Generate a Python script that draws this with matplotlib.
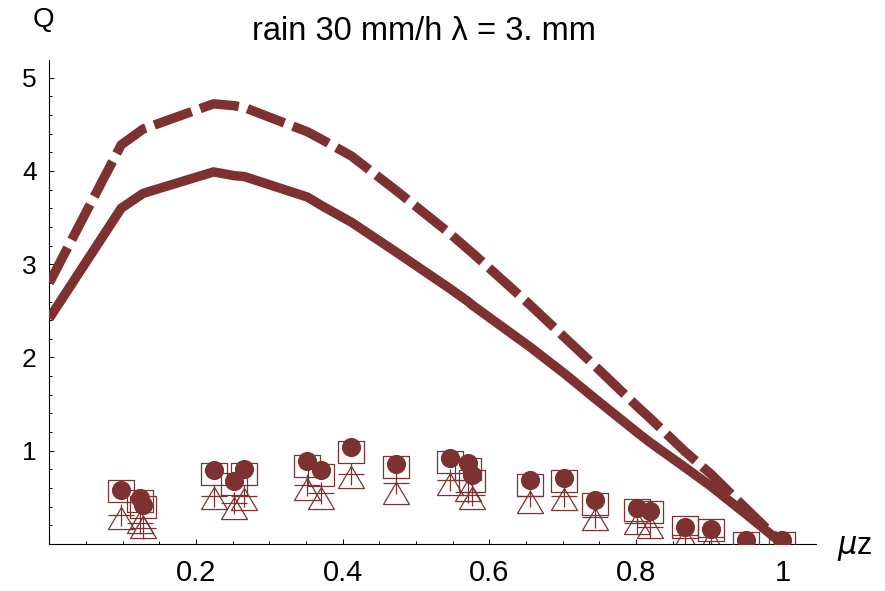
import numpy as np
import matplotlib
matplotlib.use("Agg")
import matplotlib.pyplot as plt
from matplotlib.path import Path
from matplotlib.ticker import MultipleLocator, FixedLocator

plt.rcParams['font.family'] = ['Liberation Sans', 'DejaVu Sans']

# ---- data ----
mu_z_curve = [0.0, 0.098, 0.128, 0.224, 0.252, 0.266, 0.352, 0.371, 0.412, 0.473,
              0.546, 0.571, 0.577, 0.656, 0.702, 0.744, 0.801, 0.819, 0.867, 0.902,
              0.95, 1.0]
q_solid = [2.42, 3.60, 3.76, 3.99, 3.95, 3.94, 3.72, 3.63, 3.45, 3.13,
           2.74, 2.60, 2.56, 2.11, 1.83, 1.56, 1.20, 1.09, 0.82, 0.62,
           0.32, 0.0]
q_dashed = [2.80, 4.28, 4.45, 4.72, 4.70, 4.68, 4.42, 4.34, 4.16, 3.79,
            3.33, 3.16, 3.12, 2.56, 2.22, 1.91, 1.48, 1.35, 0.99, 0.75,
            0.38, 0.0]

mu_z_pts = [0.098, 0.124, 0.128, 0.224, 0.252, 0.266, 0.352, 0.371, 0.412, 0.473,
            0.546, 0.571, 0.577, 0.656, 0.702, 0.744, 0.801, 0.819, 0.867, 0.902,
            0.95, 0.999]
q_circle = [0.58, 0.49, 0.42, 0.79, 0.675, 0.80, 0.89, 0.79, 1.04, 0.86,
            0.925, 0.865, 0.74, 0.686, 0.71, 0.47, 0.39, 0.357, 0.18, 0.157,
            0.045, 0.045]
q_square = [0.57, 0.46, 0.40, 0.75, 0.64, 0.75, 0.84, 0.735, 0.99, 0.825,
            0.875, 0.80, 0.68, 0.63, 0.68, 0.43, 0.37, 0.34, 0.18, 0.147,
            0.01, 0.01]
q_plus = [0.31, 0.22, 0.17, 0.51, 0.44, 0.51, 0.63, 0.55, 0.75, 0.65,
          0.686, 0.56, 0.525, 0.51, 0.51, 0.29, 0.22, 0.185, 0.10, 0.07,
          -0.10, -0.10]
q_triangle = [0.275, 0.24, 0.18, 0.49, 0.39, 0.48, 0.585, 0.49, 0.716, 0.55,
              0.64, 0.58, 0.49, 0.45, 0.48, 0.27, 0.22, 0.18, 0.05, 0.03,
              -0.15, -0.15]

xticks = [0.2, 0.4, 0.6, 0.8, 1.0]
xticklabels = ["0.2", "0.4", "0.6", "0.8", "1"]
yticks = [1, 2, 3, 4, 5]
yticklabels = ["1", "2", "3", "4", "5"]

color = "#7e3131"

# ---- custom markers ----
rect_marker = Path([(-1, -0.78), (1, -0.78), (1, 0.78), (-1, 0.78), (-1, -0.78)],
                   [Path.MOVETO, Path.LINETO, Path.LINETO, Path.LINETO, Path.CLOSEPOLY])
plus_marker = Path([(-1, 0), (1, 0), (0, -0.82), (0, 0.82)],
                   [Path.MOVETO, Path.LINETO, Path.MOVETO, Path.LINETO])
tri_marker = Path([(-1, -0.85), (1, -0.85), (0, 0.85), (-1, -0.85)],
                  [Path.MOVETO, Path.LINETO, Path.LINETO, Path.CLOSEPOLY])

fig = plt.figure(figsize=(8.85, 5.91), dpi=100)
ax = fig.add_axes([0.0557, 0.0795, 0.866, 0.819])

ax.plot(mu_z_pts, q_triangle, linestyle='none', marker=tri_marker, ms=18.7,
        mfc='none', mec=color, mew=0.9, zorder=2)
ax.plot(mu_z_pts, q_plus, linestyle='none', marker=plus_marker, ms=19.4,
        mfc='none', mec=color, mew=0.9, zorder=2)
ax.plot(mu_z_pts, q_square, linestyle='none', marker=rect_marker, ms=19.4,
        mfc='none', mec=color, mew=0.9, zorder=3)
ax.plot(mu_z_pts, q_circle, linestyle='none', marker='o', ms=13.8,
        mfc=color, mec=color, mew=0, zorder=4)

ax.plot(mu_z_curve, q_solid, color=color, lw=6.8, solid_joinstyle='round',
        solid_capstyle='butt', zorder=5)
ax.plot(mu_z_curve, q_dashed, color=color, lw=6.8, dashes=(4.2, 0.95),
        dash_joinstyle='round', dash_capstyle='butt', zorder=5)

ax.set_xlim(0, 1.045)
ax.set_ylim(0, 5.19)

for s in ['top', 'right']:
    ax.spines[s].set_visible(False)
for s in ['left', 'bottom']:
    ax.spines[s].set_linewidth(0.8)
    ax.spines[s].set_color('black')

ax.xaxis.set_major_locator(FixedLocator(xticks))
ax.set_xticklabels(xticklabels)
ax.xaxis.set_minor_locator(MultipleLocator(0.05))
ax.yaxis.set_major_locator(FixedLocator(yticks))
ax.set_yticklabels(yticklabels)
ax.yaxis.set_minor_locator(MultipleLocator(0.2))

ax.tick_params(axis='both', which='major', direction='in', length=3.6, width=0.7)
ax.tick_params(axis='both', which='minor', direction='in', length=2.2, width=0.7)
ax.tick_params(axis='x', which='major', labelsize=21, pad=11)
ax.tick_params(axis='y', which='major', labelsize=19, pad=9)

fig.text(424 / 885, 1 - 31 / 591, "rain 30 mm/h λ = 3. mm", ha='center',
         va='center', fontsize=23.5)
fig.text(43 / 885, 1 - 20 / 591, "Q", ha='center', va='center', fontsize=20)
fig.text(855 / 885, 1 - 548 / 591, r"$\mu$z", ha='center', va='center', fontsize=22)

fig.savefig("out.png", dpi=100)
